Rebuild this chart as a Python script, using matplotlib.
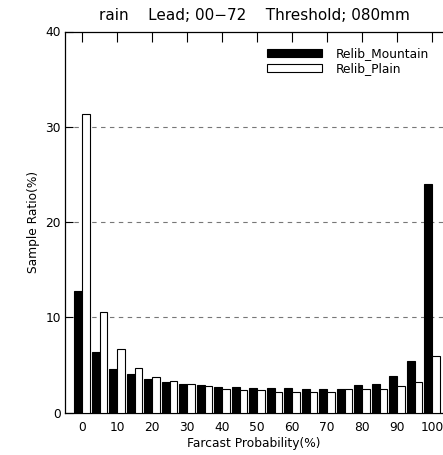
import numpy as np
import matplotlib
matplotlib.use("Agg")
import matplotlib.pyplot as plt

# Forecast probability bins (%) and sample ratio (%) for each region
prob_bins = [0, 5, 10, 15, 20, 25, 30, 35, 40, 45, 50,
             55, 60, 65, 70, 75, 80, 85, 90, 95, 100]
relib_mountain = [12.8, 6.3, 4.6, 4.0, 3.5, 3.2, 3.0, 2.85, 2.7, 2.65, 2.55,
                  2.55, 2.55, 2.5, 2.5, 2.5, 2.85, 2.95, 3.8, 5.45, 24.0]
relib_plain = [31.3, 10.5, 6.7, 4.7, 3.7, 3.3, 3.0, 2.75, 2.45, 2.4, 2.35,
               2.1, 2.2, 2.1, 2.2, 2.45, 2.45, 2.45, 2.75, 3.2, 5.9]
series_names = ["Relib_Mountain", "Relib_Plain"]
x_ticks = [0, 10, 20, 30, 40, 50, 60, 70, 80, 90, 100]
y_ticks = [0, 10, 20, 30, 40]

W, H = 443, 455
fig = plt.figure(figsize=(W / 100, H / 100), dpi=100)
ax = fig.add_axes([65 / W, (H - 412.5) / H, (443 - 65) / W, (412.5 - 31.5) / H])

plt.rcParams["font.family"] = ["DejaVu Sans"]
fs = 8.8
bw = 2.2
x = np.array(prob_bins, dtype=float)

# mountain bar to the left of each bin value, plain bar to the right
ax.bar(x - bw, relib_mountain, width=bw, align="edge", color="black",
       edgecolor="black", linewidth=0.8, label=series_names[0], zorder=3)
ax.bar(x, relib_plain, width=bw, align="edge", color="white",
       edgecolor="black", linewidth=0.8, label=series_names[1], zorder=3)

ax.set_xlim(-4.86, 103.1)
ax.set_ylim(0, 40)

for yv in [10, 20, 30]:
    ax.axhline(yv, color="#777777", linestyle=(0, (4, 4)), linewidth=0.8, zorder=1)

ax.set_yticks(y_ticks)
ax.set_yticklabels([str(v) for v in y_ticks], fontsize=fs)
ax.set_xticks(x_ticks)
ax.set_xticklabels([str(v) for v in x_ticks], fontsize=fs)
ax.tick_params(axis="y", direction="in", length=6, width=0.8, pad=3)
ax.tick_params(axis="x", direction="in", top=True, bottom=False,
               length=7, width=0.8, pad=6, labelbottom=True, labeltop=False)

ax.spines["right"].set_visible(False)
for s in ["left", "top", "bottom"]:
    ax.spines[s].set_linewidth(0.9)

ax.set_xlabel("Farcast Probability(%)", fontsize=fs, labelpad=2)
ax.set_ylabel("Sample Ratio(%)", fontsize=fs, labelpad=4)
ax.set_title("rain    Lead; 00\u221272    Threshold; 080mm", fontsize=11, pad=8)

leg = ax.legend(loc="upper right", bbox_to_anchor=(0.975, 0.972), frameon=False,
                fontsize=fs, handlelength=4.5, handleheight=0.6,
                labelspacing=0.2, handletextpad=1.1, borderaxespad=0)

fig.savefig("out.png", dpi=100)
